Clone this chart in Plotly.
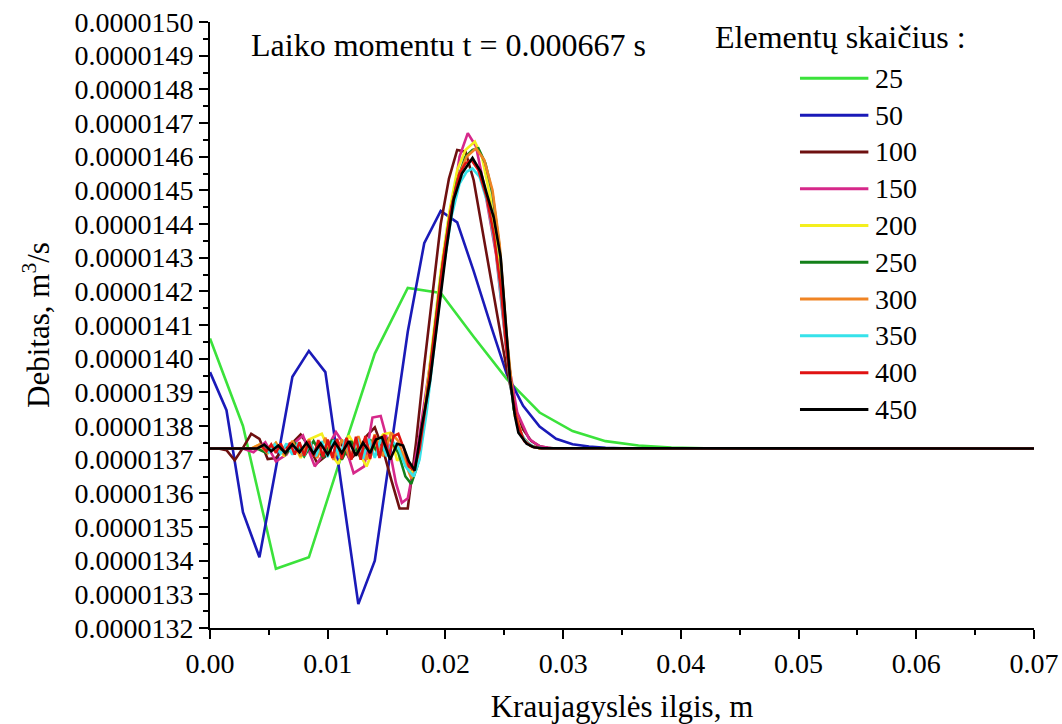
import numpy as np
import plotly.graph_objects as go

# Flow along the vessel at t = 0.000667 s for different mesh sizes.
# Positions in m, flow values in units of 1e-7 m^3/s.
UNIT = 1e-7

x25 = [0.0, 0.0028, 0.0056, 0.0084, 0.0112, 0.0140, 0.0168, 0.0196, 0.0224, 0.0252,
       0.0280, 0.0308, 0.0336, 0.0364, 0.0392, 0.0420, 0.0700]
q25 = [140.60, 138.00, 133.76, 134.10, 137.15, 140.15, 142.10, 141.95, 140.65, 139.40,
       138.40, 137.85, 137.55, 137.42, 137.36, 137.34, 137.33]

x50 = [0.0000, 0.0014, 0.0028, 0.0042, 0.0056, 0.0070, 0.0084, 0.0098, 0.0112, 0.0126,
       0.0140, 0.0154, 0.0168, 0.0182, 0.0196, 0.0210, 0.0224, 0.0238, 0.0252, 0.0266,
       0.0280, 0.0294, 0.0308, 0.0322, 0.0336, 0.0350, 0.0700]
q50 = [139.60, 138.47, 135.44, 134.10, 136.75, 139.46, 140.23, 139.60, 136.15, 132.71,
       134.00, 137.40, 140.80, 143.43, 144.39, 144.05, 142.60, 141.05, 139.55, 138.60,
       137.98, 137.62, 137.46, 137.39, 137.35, 137.34, 137.33]

x100 = [0.0000, 0.0007, 0.0014, 0.0021, 0.0028, 0.0035, 0.0042, 0.0049, 0.0056, 0.0063,
        0.0070, 0.0077, 0.0084, 0.0091, 0.0098, 0.0105, 0.0112, 0.0119, 0.0126, 0.0133,
        0.0140, 0.0147, 0.0154, 0.0161, 0.0168, 0.0175, 0.0182, 0.0189, 0.0196, 0.0203,
        0.0210, 0.0217, 0.0224, 0.0231, 0.0238, 0.0245, 0.0252, 0.0259, 0.0266, 0.0273,
        0.0280, 0.0287, 0.0294, 0.0700]
q100 = [137.33, 137.33, 137.28, 136.98, 137.35, 137.77, 137.62, 137.02, 137.05, 137.35,
        137.50, 137.75, 137.40, 136.90, 137.10, 137.55, 137.45, 137.00, 137.25, 137.70,
        137.96, 137.30, 136.40, 135.55, 135.55, 137.50, 139.80, 142.00, 144.00, 145.35,
        146.20, 146.15, 145.30, 143.90, 142.50, 141.10, 139.70, 138.55, 137.90, 137.55,
        137.40, 137.35, 137.33, 137.33]

x150 = [0.0000, 0.0028, 0.0037, 0.0047, 0.0056, 0.0065, 0.0070, 0.0079, 0.0089, 0.0098,
        0.0107, 0.0115, 0.0122, 0.0131, 0.0138, 0.0145, 0.0152, 0.0158, 0.0163, 0.0168,
        0.0177, 0.0187, 0.0196, 0.0205, 0.0212, 0.0219, 0.0226, 0.0233, 0.0243, 0.0252,
        0.0261, 0.0271, 0.0280, 0.0290, 0.0700]
q150 = [137.33, 137.33, 137.22, 137.52, 136.95, 137.15, 137.45, 137.72, 136.80, 137.25,
        137.82, 137.40, 136.60, 136.80, 138.25, 138.30, 137.40, 136.30, 135.72, 135.85,
        137.50, 139.85, 142.20, 144.40, 146.00, 146.70, 146.30, 145.10, 143.10, 140.20,
        138.40, 137.62, 137.40, 137.34, 137.33]

x200 = [0.0000, 0.0035, 0.0042, 0.0049, 0.0056, 0.0063, 0.0070, 0.0077, 0.0084, 0.0095,
        0.0102, 0.0109, 0.0118, 0.0125, 0.0133, 0.0140, 0.0147, 0.0153, 0.0159, 0.0165,
        0.0171, 0.0176, 0.0182, 0.0189, 0.0196, 0.0203, 0.0210, 0.0217, 0.0225, 0.0231,
        0.0238, 0.0245, 0.0252, 0.0259, 0.0266, 0.0273, 0.0280, 0.0700]
q200 = [137.33, 137.33, 137.45, 137.20, 137.50, 137.10, 137.55, 137.05, 137.60, 137.77,
        137.20, 136.87, 137.72, 137.30, 136.80, 137.40, 137.75, 137.80, 136.97, 137.20,
        136.55, 136.95, 138.40, 140.50, 142.60, 144.30, 145.60, 146.20, 146.45, 146.00,
        144.80, 142.90, 140.30, 138.30, 137.62, 137.40, 137.34, 137.33]

x250 = [0.0000, 0.0040, 0.0048, 0.0056, 0.0064, 0.0072, 0.0080, 0.0088, 0.0096, 0.0104,
        0.0112, 0.0120, 0.0128, 0.0136, 0.0144, 0.0152, 0.0160, 0.0166, 0.0171, 0.0176,
        0.0182, 0.0189, 0.0196, 0.0203, 0.0210, 0.0217, 0.0223, 0.0228, 0.0234, 0.0240,
        0.0246, 0.0252, 0.0258, 0.0265, 0.0272, 0.0280, 0.0700]
q250 = [137.33, 137.33, 137.20, 137.45, 137.15, 137.50, 137.10, 137.55, 137.05, 137.60,
        137.00, 137.55, 137.05, 137.60, 137.10, 137.65, 137.20, 136.50, 136.28, 136.80,
        138.20, 140.30, 142.40, 144.10, 145.30, 146.00, 146.20, 146.25, 145.80, 144.90,
        143.30, 140.60, 138.50, 137.70, 137.42, 137.34, 137.33]

x300 = [0.0000, 0.0035, 0.0042, 0.0049, 0.0056, 0.0063, 0.0070, 0.0077, 0.0084, 0.0091,
        0.0098, 0.0105, 0.0112, 0.0119, 0.0126, 0.0133, 0.0140, 0.0147, 0.0154, 0.0160,
        0.0166, 0.0171, 0.0177, 0.0183, 0.0190, 0.0197, 0.0204, 0.0211, 0.0218, 0.0226,
        0.0233, 0.0240, 0.0246, 0.0252, 0.0258, 0.0265, 0.0272, 0.0280, 0.0700]
q300 = [137.33, 137.33, 137.45, 137.20, 137.50, 137.15, 137.55, 137.10, 137.60, 137.05,
        137.65, 137.00, 137.60, 137.05, 137.70, 137.00, 137.75, 137.10, 137.80, 137.55,
        136.90, 136.45, 136.90, 138.30, 140.40, 142.50, 144.20, 145.40, 146.00, 146.25,
        145.90, 145.00, 143.40, 140.70, 138.60, 137.70, 137.42, 137.34, 137.33]

x350 = [0.0000, 0.0040, 0.0045, 0.0050, 0.0055, 0.0060, 0.0065, 0.0070, 0.0075, 0.0080,
        0.0085, 0.0090, 0.0095, 0.0100, 0.0105, 0.0110, 0.0115, 0.0120, 0.0125, 0.0130,
        0.0135, 0.0140, 0.0145, 0.0150, 0.0155, 0.0160, 0.0166, 0.0173, 0.0178, 0.0184,
        0.0191, 0.0198, 0.0205, 0.0212, 0.0218, 0.0223, 0.0229, 0.0236, 0.0243, 0.0249,
        0.0255, 0.0261, 0.0268, 0.0275, 0.0282, 0.0700]
q350 = [137.33, 137.33, 137.42, 137.22, 137.45, 137.18, 137.48, 137.15, 137.50, 137.12,
        137.52, 137.10, 137.55, 137.08, 137.58, 137.05, 137.60, 137.05, 137.62, 137.02,
        137.62, 137.05, 137.60, 137.10, 137.55, 137.35, 136.80, 136.50, 137.00, 138.40,
        140.50, 142.60, 144.20, 145.20, 145.55, 145.65, 145.40, 144.60, 143.20, 141.20,
        139.26, 138.00, 137.55, 137.38, 137.34, 137.33]

x400 = [0.0000, 0.0040, 0.0044, 0.0048, 0.0052, 0.0056, 0.0060, 0.0064, 0.0068, 0.0072,
        0.0076, 0.0080, 0.0084, 0.0088, 0.0092, 0.0096, 0.0100, 0.0104, 0.0108, 0.0112,
        0.0116, 0.0120, 0.0124, 0.0128, 0.0132, 0.0136, 0.0140, 0.0144, 0.0148, 0.0152,
        0.0156, 0.0160, 0.0165, 0.0169, 0.0173, 0.0178, 0.0184, 0.0191, 0.0198, 0.0205,
        0.0212, 0.0217, 0.0222, 0.0228, 0.0235, 0.0241, 0.0247, 0.0252, 0.0256, 0.0261,
        0.0267, 0.0274, 0.0281, 0.0700]
q400 = [137.33, 137.33, 137.40, 137.25, 137.45, 137.20, 137.48, 137.18, 137.50, 137.15,
        137.52, 137.12, 137.55, 137.10, 137.58, 137.08, 137.60, 137.05, 137.62, 137.02,
        137.65, 137.00, 137.68, 137.00, 137.70, 137.02, 137.72, 137.05, 137.75, 137.10,
        137.70, 137.77, 137.30, 136.80, 136.70, 137.30, 138.80, 140.90, 142.90, 144.50,
        145.50, 145.80, 145.90, 145.60, 144.80, 143.70, 142.10, 140.20, 139.10, 138.10,
        137.55, 137.38, 137.34, 137.33]

x450 = [0.0000, 0.0040, 0.0046, 0.0052, 0.0058, 0.0064, 0.0070, 0.0076, 0.0082, 0.0088,
        0.0094, 0.0100, 0.0106, 0.0112, 0.0118, 0.0124, 0.0130, 0.0136, 0.0141, 0.0146,
        0.0153, 0.0159, 0.0164, 0.0169, 0.0174, 0.0180, 0.0187, 0.0195, 0.0201, 0.0207,
        0.0214, 0.0223, 0.0230, 0.0235, 0.0241, 0.0247, 0.0251, 0.0255, 0.0259, 0.0262,
        0.0269, 0.0275, 0.0282, 0.0700]
q450 = [137.33, 137.33, 137.45, 137.25, 137.42, 137.20, 137.45, 137.22, 137.50, 137.18,
        137.48, 137.15, 137.52, 137.20, 137.55, 137.12, 137.50, 137.20, 137.60, 137.67,
        137.00, 137.47, 137.42, 136.95, 136.68, 138.00, 139.36, 141.60, 143.30, 144.72,
        145.50, 145.96, 145.55, 144.92, 144.20, 143.00, 141.30, 139.36, 138.30, 137.80,
        137.47, 137.37, 137.34, 137.33]

element_counts = ["25", "50", "100", "150", "200", "250", "300", "350", "400", "450"]
positions = [x25, x50, x100, x150, x200, x250, x300, x350, x400, x450]
flows = [q25, q50, q100, q150, q200, q250, q300, q350, q400, q450]
colors = ["#3be23b", "#1a1ab8", "#6e1010", "#d6288a", "#f4ef1e",
          "#13801a", "#f08424", "#36e2ea", "#e01212", "#000000"]

for xs, qs in zip(positions, flows):
    assert len(xs) == len(qs)

SERIF = "Liberation Serif, Times New Roman, serif"

fig = go.Figure()
for name, xs, qs, col in zip(element_counts, positions, flows, colors):
    fig.add_trace(go.Scatter(
        x=xs, y=np.array(qs) * UNIT, mode="lines", name=name,
        line=dict(color=col, width=2.6), showlegend=False,
    ))

axis_common = dict(
    showline=True, linecolor="black", linewidth=2, mirror=False,
    ticks="outside", ticklen=9, tickwidth=2, tickcolor="black",
    showgrid=False, zeroline=False, automargin=False,
    tickfont=dict(family=SERIF, size=28, color="black"),
)

fig.update_xaxes(
    range=[0, 0.07], tick0=0, dtick=0.01, tickformat=".2f",
    minor=dict(dtick=0.005, ticks="outside", ticklen=5, tickwidth=2, tickcolor="black"),
    title=dict(text="Kraujagyslės ilgis, m", font=dict(family=SERIF, size=31, color="black"),
               standoff=18),
    **axis_common,
)
fig.update_yaxes(
    range=[1.32e-5, 1.50e-5], tick0=1.32e-5, dtick=1e-7, tickformat=".7f",
    minor=dict(dtick=5e-8, ticks="outside", ticklen=5, tickwidth=2, tickcolor="black"),
    title=dict(text="Debitas, m<sup>3</sup>/s", font=dict(family=SERIF, size=31, color="black"),
               standoff=16),
    **axis_common,
)

annotations = [
    dict(text="Laiko momentu t = 0.000667 s", xref="paper", yref="paper",
         x=0.29, y=0.962, xanchor="center", yanchor="middle", showarrow=False,
         font=dict(family=SERIF, size=32, color="black")),
    dict(text="Elementų skaičius :", xref="paper", yref="paper",
         x=0.765, y=0.975, xanchor="center", yanchor="middle", showarrow=False,
         font=dict(family=SERIF, size=32, color="black")),
]
shapes = []

# Hand-built legend: one swatch line and label per mesh size
row0, row_gap = 0.907, 0.0607
for i, (name, col) in enumerate(zip(element_counts, colors)):
    yy = row0 - i * row_gap
    shapes.append(dict(type="line", xref="paper", yref="paper",
                       x0=0.716, x1=0.799, y0=yy, y1=yy,
                       line=dict(color=col, width=3)))
    annotations.append(dict(text=name, xref="paper", yref="paper",
                            x=0.805, y=yy, xanchor="left", yanchor="middle",
                            showarrow=False,
                            font=dict(family=SERIF, size=28, color="black")))

fig.update_layout(
    width=1062, height=724,
    margin=dict(l=210, r=28, t=22, b=96),
    plot_bgcolor="white", paper_bgcolor="white",
    showlegend=False,
    annotations=annotations, shapes=shapes,
)

fig.write_html("out.html")
